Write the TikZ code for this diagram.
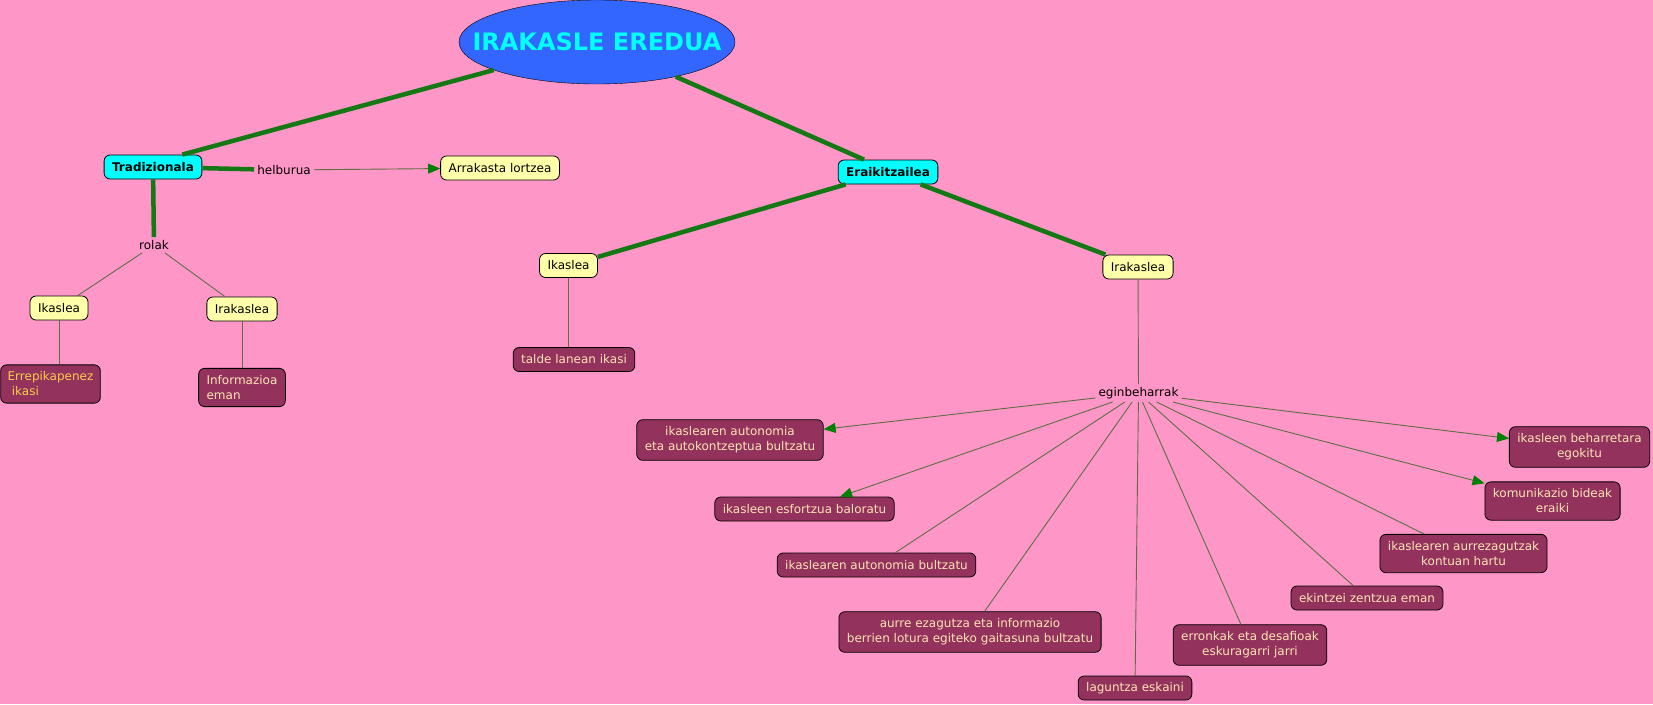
\documentclass[tikz,border=0pt]{standalone}
\usepackage{fontspec}
\setmainfont{DejaVu Sans}
\usetikzlibrary{arrows.meta,shapes.geometric}
\definecolor{bgpink}{RGB}{255,150,200}
\definecolor{boxyellow}{RGB}{255,255,170}
\definecolor{boxcyan}{RGB}{0,255,255}
\definecolor{boxmaroon}{RGB}{148,50,94}
\definecolor{boxtext}{RGB}{255,228,180}
\definecolor{errepgold}{RGB}{250,205,70}
\definecolor{titleblue}{RGB}{51,102,255}
\definecolor{linegreen}{RGB}{20,120,20}
\definecolor{lineolive}{RGB}{95,110,65}
\definecolor{arrowgreen}{RGB}{0,128,0}

\begin{document}
\begin{tikzpicture}[x=1pt, y=-1pt,
  every node/.style={font=\fontsize{12}{15}\selectfont},
  concept/.style={draw=black, line width=0.8pt, rounded corners=6pt, inner xsep=8pt, inner ysep=5pt, minimum height=24pt, align=center},
  yellowbox/.style={concept, fill=boxyellow},
  cyanbox/.style={concept, fill=boxcyan, font=\fontsize{12}{15}\selectfont\bfseries},
  maroonbox/.style={concept, fill=boxmaroon, text=boxtext},
  twoline/.style={inner ysep=7pt},
  linkword/.style={inner sep=3pt},
  thickline/.style={line width=4.5pt, draw=linegreen},
  thinline/.style={line width=0.9pt, draw=lineolive},
  arrowline/.style={thinline, -{Triangle[length=12pt,width=10pt,color=arrowgreen]}}]
  % background
  \fill[bgpink] (0,0) rectangle (1653,704);
  \useasboundingbox (0,0) rectangle (1653,704);
  % title
  \node[ellipse, draw=black, fill=titleblue, inner sep=0pt, minimum width=276pt, minimum height=84pt] (eredua) at (597,42) {};
  \node[text=boxcyan, font=\fontsize{24}{28}\selectfont\bfseries] (ereduatext) at (eredua) {IRAKASLE EREDUA};
  \node[cyanbox] (tradizionala) at (153,167) {Tradizionala};
  \node[cyanbox] (eraikitzailea) at (888,172) {Eraikitzailea};
  \draw[thickline] (eredua) -- ([xshift=-20pt]tradizionala.north east);
  \draw[thickline] (eredua) -- ([xshift=-24pt]eraikitzailea.north);
  % Tradizionala
  \node[linkword] (helburua) at (284,170) {helburua};
  \node[yellowbox] (arrakasta) at (500,168) {Arrakasta lortzea};
  \node[linkword] (rolak) at (154,245) {rolak};
  \node[yellowbox] (ikasleaT) at (59,308) {Ikaslea};
  \node[yellowbox] (irakasleaT) at (242,309) {Irakaslea};
  \node[maroonbox, twoline, align=left, inner xsep=7pt, text=errepgold] (errepikapenez) at (50.5,384) {Errepikapenez\\\hspace*{0.35em}ikasi};
  \node[maroonbox, twoline, align=left] (informazioa) at (242,387.5) {Informazioa\\eman};
  \draw[thickline] (tradizionala) -- (helburua);
  \draw[arrowline] (helburua) -- (arrakasta);
  \draw[thickline] (tradizionala) -- (rolak);
  \draw[thinline] (rolak) -- (ikasleaT);
  \draw[thinline] (rolak) -- (irakasleaT);
  \draw[thinline] (ikasleaT.south) -- (ikasleaT.south |- errepikapenez.north);
  \draw[thinline] (irakasleaT) -- (informazioa);
  % Eraikitzailea
  \node[yellowbox] (ikasleaE) at (568.5,265.5) {Ikaslea};
  \node[yellowbox] (irakasleaE) at (1138,267) {Irakaslea};
  \node[maroonbox] (talde) at (574,359.5) {talde lanean ikasi};
  \node[linkword] (eginbeharrak) at (1138.5,393) {eginbeharrak};
  \draw[thickline] (eraikitzailea) -- (ikasleaE);
  \draw[thickline] (eraikitzailea) -- (irakasleaE);
  \draw[thinline] (ikasleaE.south) -- (ikasleaE.south |- talde.north);
  \draw[thinline] (irakasleaE) -- (eginbeharrak);
  % eginbeharrak
  \node[maroonbox, twoline] (autokontzeptua) at (730,440) {ikaslearen autonomia\\eta autokontzeptua bultzatu};
  \node[maroonbox] (esfortzua) at (804.5,509) {ikasleen esfortzua baloratu};
  \node[maroonbox] (autonomia) at (876.5,565) {ikaslearen autonomia bultzatu};
  \node[maroonbox, twoline] (lotura) at (970,632) {aurre ezagutza eta informazio\\berrien lotura egiteko gaitasuna bultzatu};
  \node[maroonbox] (laguntza) at (1135,688) {laguntza eskaini};
  \node[maroonbox, twoline] (erronkak) at (1250,645) {erronkak eta desafioak\\eskuragarri jarri};
  \node[maroonbox] (ekintzei) at (1367,598) {ekintzei zentzua eman};
  \node[maroonbox, twoline] (aurrezagutzak) at (1463.5,553.5) {ikaslearen aurrezagutzak\\kontuan hartu};
  \node[maroonbox, twoline] (komunikazio) at (1552.5,501) {komunikazio bideak\\eraiki};
  \node[maroonbox, twoline] (beharretara) at (1579.5,447) {ikasleen beharretara\\egokitu};
  \draw[arrowline] (eginbeharrak) -- (autokontzeptua);
  \draw[arrowline] (eginbeharrak) -- (esfortzua);
  \draw[thinline] (eginbeharrak) -- (autonomia);
  \draw[thinline] (eginbeharrak) -- (lotura);
  \draw[thinline] (eginbeharrak) -- (laguntza);
  \draw[thinline] (eginbeharrak) -- (erronkak);
  \draw[thinline] (eginbeharrak) -- (ekintzei);
  \draw[thinline] (eginbeharrak) -- (aurrezagutzak);
  \draw[arrowline] (eginbeharrak) -- (komunikazio);
  \draw[arrowline] (eginbeharrak) -- (beharretara);
\end{tikzpicture}
\end{document}
